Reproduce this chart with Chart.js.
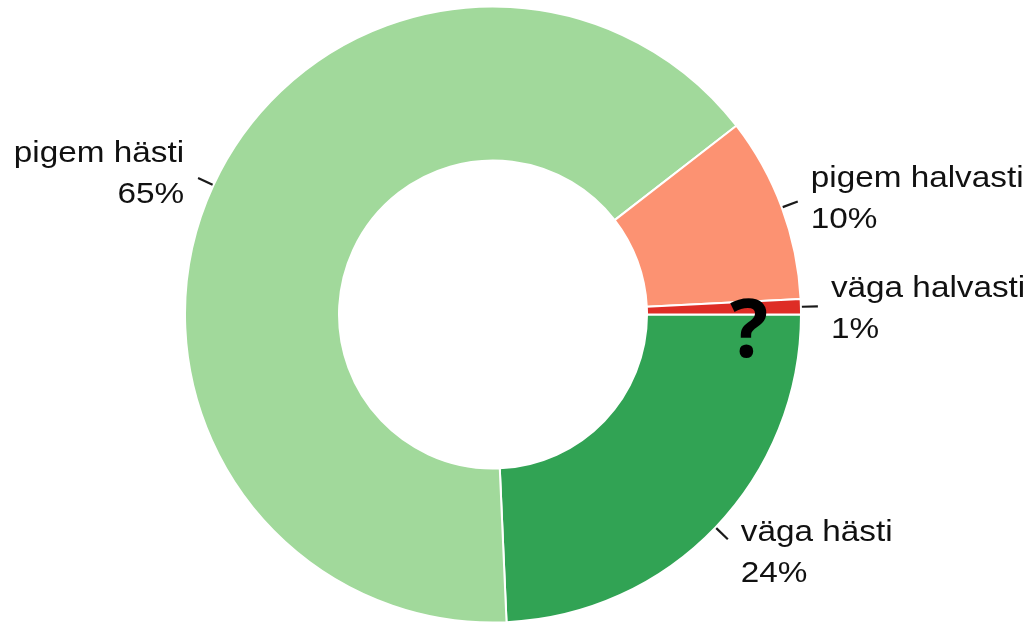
<!DOCTYPE html>
<html>
<head>
<meta charset="utf-8">
<script src="https://cdn.jsdelivr.net/npm/chart.js@4.4.0/dist/chart.umd.min.js"></script>
<style>
  html,body{margin:0;padding:0;background:#fff;}
  #wrap{position:relative;width:1036px;height:624px;overflow:hidden;}
</style>
</head>
<body>
<div id="wrap"><canvas id="donut" width="1036" height="624"></canvas></div>
<script>
// slices in drawing order, clockwise from 3 o'clock
var categories = ['väga hästi', 'pigem hästi', 'pigem halvasti', 'väga halvasti'];
var shares     = [24.3, 65.2, 9.7, 0.8];
var colours    = ['#31a354', '#a1d99b', '#fc9272', '#de2d26'];

var FONT = "'Liberation Sans', Arial, sans-serif";

var outsideLabels = {
  id:'outsideLabels',
  afterDatasetsDraw:function(chart){
    var ctx = chart.ctx;
    var meta = chart.getDatasetMeta(0);
    ctx.save();
    meta.data.forEach(function(arc, i){
      var p = arc.getProps(['x','y','startAngle','endAngle','outerRadius'], true);
      var a = (p.startAngle + p.endAngle)/2;
      var c = Math.cos(a), s = Math.sin(a);
      var r0 = p.outerRadius + 1, r1 = p.outerRadius + 17;
      var ex = p.x + r1*c, ey = p.y + r1*s;
      ctx.strokeStyle = '#1a1a1a';
      ctx.lineWidth = 2.2;
      ctx.beginPath();
      ctx.moveTo(p.x + r0*c, p.y + r0*s);
      ctx.lineTo(ex, ey);
      ctx.stroke();

      var right = c >= 0;
      var tx = right ? ex + 13 : ex - 14;
      var base = ey - 9 + 16*s;
      // the source text is drawn a little wider than plain Arial
      ctx.save();
      ctx.translate(tx, base);
      ctx.scale(1.11, 1);
      ctx.fillStyle = '#111';
      ctx.font = '30px ' + FONT;
      ctx.textAlign = right ? 'left' : 'right';
      ctx.textBaseline = 'alphabetic';
      ctx.fillText(categories[i], 0, 0);
      ctx.fillText(Math.round(shares[i]) + '%', 0, 41);
      ctx.restore();
    });
    ctx.restore();
  },
  afterDraw:function(chart){
    var ctx = chart.ctx;
    ctx.save();
    ctx.fillStyle = '#000';
    ctx.font = "bold 80px 'Open Sans', sans-serif";
    ctx.textAlign = 'center';
    ctx.textBaseline = 'alphabetic';
    ctx.fillText('?', 749, 357);
    ctx.restore();
  }
};

new Chart(document.getElementById('donut'), {
  type:'doughnut',
  data:{
    labels:categories,
    datasets:[{
      data:shares,
      backgroundColor:colours,
      borderColor:'#fff',
      borderWidth:2
    }]
  },
  options:{
    responsive:false,
    animation:false,
    events:[],
    rotation:90,
    cutout:'50%',
    layout:{padding:{left:184, right:234, top:5.5, bottom:0.5}},
    plugins:{legend:{display:false}, tooltip:{enabled:false}}
  },
  plugins:[outsideLabels]
});
</script>
</body>
</html>
